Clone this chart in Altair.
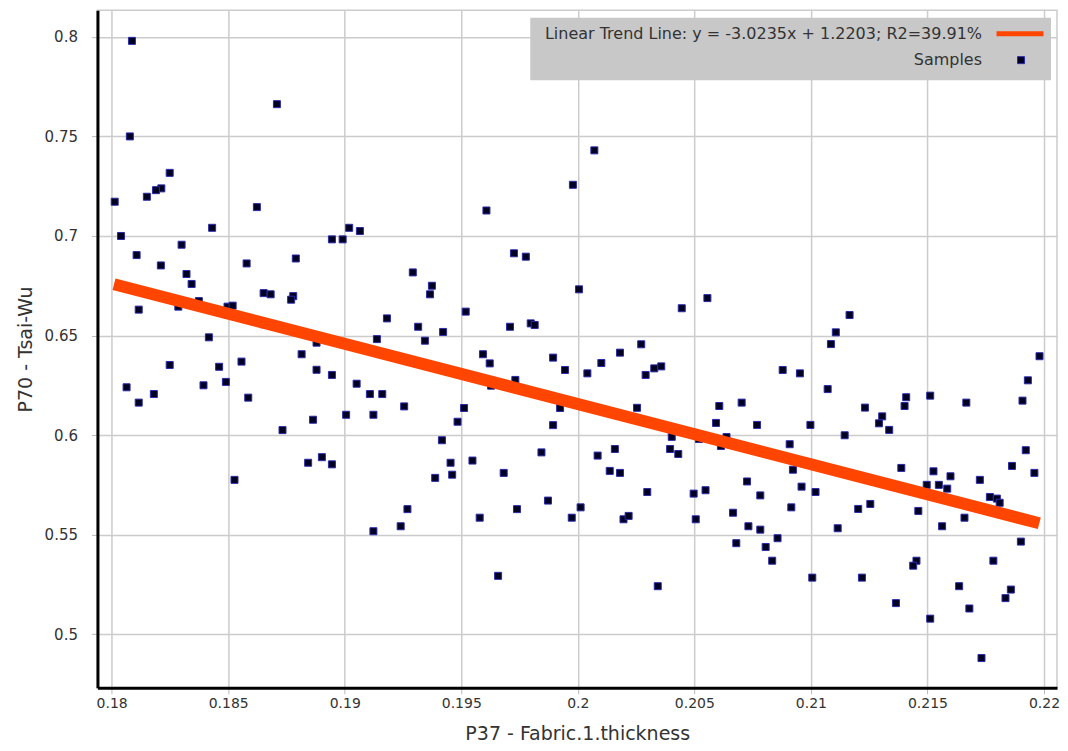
import altair as alt
import pandas as pd

# P37 - Fabric.1.thickness
thickness = [
    0.18087, 0.18709, 0.18078, 0.18249, 0.18213, 0.18190, 0.18151, 0.18013, 0.18623, 0.18431,
    0.18040, 0.18945, 0.18300, 0.18107, 0.18790, 0.18211, 0.18579, 0.18321, 0.18343, 0.18652,
    0.18682, 0.18779, 0.18770, 0.18116, 0.18374, 0.18286, 0.18497, 0.18519, 0.18653, 0.18417,
    0.18879, 0.18064, 0.18116, 0.18181, 0.18249, 0.18394, 0.18461, 0.18490, 0.18557, 0.18586,
    0.18815, 0.18879, 0.18945, 0.18733, 0.18864, 0.18843, 0.18902, 0.18945, 0.18527, 0.19979,
    0.19608, 0.19019, 0.19065, 0.18991, 0.19726, 0.19777, 0.19292, 0.19374, 0.19366, 0.20005,
    0.19519, 0.19181, 0.19315, 0.19422, 0.19709, 0.19798, 0.19815, 0.19138, 0.19344, 0.19593,
    0.19622, 0.19894, 0.19945, 0.19732, 0.19628, 0.19051, 0.19108, 0.19161, 0.19006, 0.19123,
    0.19255, 0.19512, 0.19484, 0.19924, 0.19894, 0.19417, 0.19454, 0.19461, 0.19388, 0.19548,
    0.19682, 0.19844, 0.19872, 0.19739, 0.19579, 0.19269, 0.19240, 0.19123, 0.19974, 0.19658,
    0.20071, 0.20446, 0.20556, 0.20272, 0.20181, 0.20101, 0.20041, 0.20291, 0.20328, 0.20358,
    0.20254, 0.20879, 0.20953, 0.20607, 0.20703, 0.20593, 0.20769, 0.20998, 0.20403, 0.20396,
    0.20431, 0.20520, 0.20638, 0.20614, 0.20159, 0.20085, 0.20137, 0.20181, 0.20298, 0.20012,
    0.20196, 0.20218, 0.20497, 0.20548, 0.20506, 0.20343, 0.20909, 0.20923, 0.20960, 0.21020,
    0.20726, 0.20783, 0.20916, 0.20666, 0.20732, 0.20783, 0.20857, 0.20680, 0.20806, 0.20834,
    0.21006, 0.21166, 0.21107, 0.21086, 0.21981, 0.21931, 0.21908, 0.21072, 0.21232, 0.21409,
    0.21402, 0.21512, 0.21667, 0.21306, 0.21292, 0.21336, 0.21145, 0.21922, 0.21863, 0.21959,
    0.21388, 0.21526, 0.21599, 0.21497, 0.21549, 0.21585, 0.21725, 0.21768, 0.21798, 0.21810,
    0.21203, 0.21255, 0.21115, 0.21461, 0.21563, 0.21659, 0.21901, 0.21783, 0.21453, 0.21439,
    0.21219, 0.21636, 0.21858, 0.21835, 0.21365, 0.21680, 0.21512, 0.21732,
]

# P70 - Tsai-Wu
tsai_wu = [
    0.7980, 0.7662, 0.7500, 0.7317, 0.7239, 0.7230, 0.7197, 0.7172, 0.7145, 0.7041,
    0.7000, 0.6983, 0.6956, 0.6904, 0.6887, 0.6852, 0.6862, 0.6809, 0.6759, 0.6713,
    0.6707, 0.6698, 0.6680, 0.6630, 0.6673, 0.6645, 0.6645, 0.6650, 0.6557, 0.6491,
    0.6464, 0.6240, 0.6163, 0.6206, 0.6352, 0.6250, 0.6343, 0.6267, 0.6369, 0.6188,
    0.6406, 0.6328, 0.6302, 0.6025, 0.6077, 0.5861, 0.5889, 0.5853, 0.5775, 0.7257,
    0.7128, 0.7041, 0.7025, 0.6983, 0.6913, 0.6896, 0.6817, 0.6750, 0.6707, 0.6732,
    0.6620, 0.6586, 0.6544, 0.6518, 0.6544, 0.6561, 0.6553, 0.6482, 0.6474, 0.6406,
    0.6360, 0.6389, 0.6327, 0.6277, 0.6248, 0.6258, 0.6206, 0.6206, 0.6102, 0.6102,
    0.6144, 0.6136, 0.6067, 0.6136, 0.6050, 0.5974, 0.5861, 0.5801, 0.5785, 0.5872,
    0.5810, 0.5913, 0.5671, 0.5628, 0.5585, 0.5628, 0.5542, 0.5517, 0.5585, 0.5293,
    0.7430, 0.6637, 0.6688, 0.6456, 0.6414, 0.6362, 0.6310, 0.6302, 0.6335, 0.6345,
    0.6137, 0.6327, 0.6310, 0.6146, 0.6163, 0.6061, 0.6051, 0.6051, 0.5991, 0.5930,
    0.5905, 0.5980, 0.5990, 0.5945, 0.5930, 0.5897, 0.5820, 0.5810, 0.5714, 0.5637,
    0.5577, 0.5594, 0.5706, 0.5723, 0.5577, 0.5241, 0.5954, 0.5826, 0.5741, 0.5714,
    0.5767, 0.5697, 0.5637, 0.5610, 0.5542, 0.5525, 0.5482, 0.5457, 0.5438, 0.5369,
    0.5284, 0.6603, 0.6516, 0.6457, 0.6396, 0.6275, 0.6173, 0.6231, 0.6138, 0.6190,
    0.6146, 0.6198, 0.6163, 0.6094, 0.6059, 0.6026, 0.5999, 0.5924, 0.5845, 0.5810,
    0.5835, 0.5818, 0.5793, 0.5750, 0.5750, 0.5731, 0.5775, 0.5689, 0.5681, 0.5660,
    0.5629, 0.5654, 0.5532, 0.5619, 0.5542, 0.5585, 0.5465, 0.5369, 0.5369, 0.5344,
    0.5284, 0.5241, 0.5224, 0.5181, 0.5156, 0.5129, 0.5078, 0.4880,
]

# Linear trend line  y = slope * x + intercept, drawn over the sample range
trend_slope = -3.0235
trend_intercept = 1.2203
trend_x = [0.1801, 0.2198]
trend_label = "Linear Trend Line: y = -3.0235x + 1.2203; R2=39.91%"
samples_label = "Samples"

x_ticks = [0.18, 0.185, 0.19, 0.195, 0.2, 0.205, 0.21, 0.215, 0.22]
y_ticks = [0.5, 0.55, 0.6, 0.65, 0.7, 0.75, 0.8]

points = pd.DataFrame({"thickness": thickness, "tsai": tsai_wu})
trend = pd.DataFrame({
    "thickness": trend_x,
    "tsai": [trend_slope * v + trend_intercept for v in trend_x],
})

FONT = "DejaVu Sans"
TXT = "#333333"
W, H = 960, 678

xscale = alt.Scale(domain=[0.17939, 0.22056], nice=False, zero=False)
yscale = alt.Scale(domain=[0.47304, 0.81341], nice=False, zero=False)

xaxis = alt.Axis(values=x_ticks, format="~g", title="P37 - Fabric.1.thickness",
                 grid=True, gridColor="#cccccc", gridWidth=1.5,
                 domainColor="black", domainWidth=3, tickColor="#bbbbbb", tickSize=6,
                 labelFont=FONT, labelFontSize=14, labelColor=TXT, labelPadding=3,
                 titleFont=FONT, titleFontSize=19, titleFontWeight="normal",
                 titleColor=TXT, titlePadding=14)
yaxis = alt.Axis(values=y_ticks, format="~g", title="P70 - Tsai-Wu",
                 grid=True, gridColor="#cccccc", gridWidth=1.5,
                 domainColor="black", domainWidth=3, tickColor="#bbbbbb", tickSize=6,
                 labelFont=FONT, labelFontSize=15, labelColor=TXT, labelPadding=14,
                 titleFont=FONT, titleFontSize=19, titleFontWeight="normal",
                 titleColor=TXT, titlePadding=9)

base_points = alt.Chart(points).mark_square(
    size=49, filled=True, color="#000022", stroke="#2a2aa8", strokeWidth=1, opacity=1
).encode(
    x=alt.X("thickness:Q", scale=xscale, axis=xaxis),
    y=alt.Y("tsai:Q", scale=yscale, axis=yaxis),
)

trend_line = alt.Chart(trend).mark_line(
    color="#ff4500", strokeWidth=12, strokeCap="butt"
).encode(
    x=alt.X("thickness:Q", scale=xscale),
    y=alt.Y("tsai:Q", scale=yscale),
)

one = pd.DataFrame({"k": [0]})
legend_box = alt.Chart(one).mark_rect(color="#c8c8c8").encode(
    x=alt.value(433), x2=alt.value(954), y=alt.value(7.5), y2=alt.value(70)
)
legend_text1 = alt.Chart(one).mark_text(
    text=trend_label, align="right", baseline="middle", font=FONT, fontSize=16, color=TXT
).encode(x=alt.value(885), y=alt.value(23.6))
legend_text2 = alt.Chart(one).mark_text(
    text=samples_label, align="right", baseline="middle", font=FONT, fontSize=16, color=TXT
).encode(x=alt.value(885), y=alt.value(50))
legend_swatch_line = alt.Chart(one).mark_rule(color="#ff4500", strokeWidth=5).encode(
    x=alt.value(899.5), x2=alt.value(946.5), y=alt.value(23.6)
)
legend_swatch_pt = alt.Chart(one).mark_square(
    size=49, filled=True, color="#000022", stroke="#2a2aa8", strokeWidth=1, opacity=1
).encode(x=alt.value(924), y=alt.value(50))

chart = alt.layer(
    base_points, trend_line, legend_box, legend_text1, legend_text2,
    legend_swatch_line, legend_swatch_pt
).properties(
    width=W, height=H,
    autosize=alt.AutoSizeParams(type="none"),
    padding={"left": 89.5, "top": 2, "right": 3, "bottom": 55},
    background="white",
).configure_view(stroke="#cccccc", strokeWidth=1.5)

chart.save("out.html", embed_options={"renderer": "svg", "actions": False})
